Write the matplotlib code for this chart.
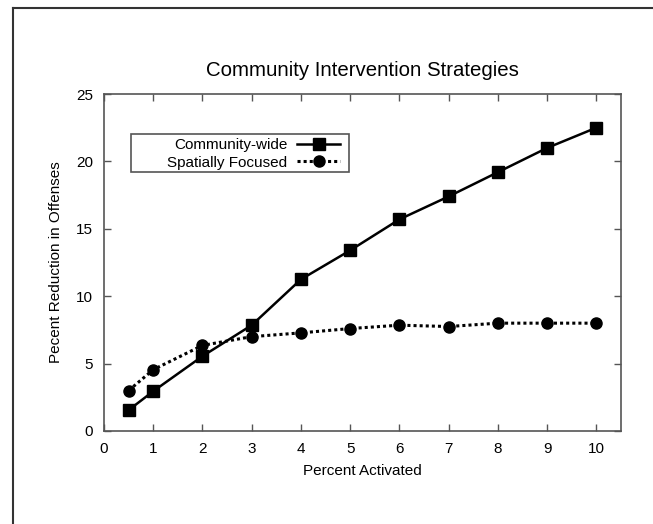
import matplotlib
matplotlib.use("Agg")
import matplotlib.pyplot as plt
from matplotlib.lines import Line2D
from matplotlib.patches import Rectangle

plt.rcParams['font.family'] = ['Liberation Sans', 'DejaVu Sans']

# percent of residents activated
pct_activated = [0.5, 1, 2, 3, 4, 5, 6, 7, 8, 9, 10]

# percent reduction in offenses per strategy
community_wide = [1.55, 2.95, 5.55, 7.85, 11.25, 13.4, 15.7, 17.4, 19.2, 21.0, 22.5]
spatially_focused = [3.0, 4.55, 6.35, 7.0, 7.28, 7.6, 7.85, 7.75, 8.0, 8.0, 8.0]

x_ticks = [0, 1, 2, 3, 4, 5, 6, 7, 8, 9, 10]
y_ticks = [0, 5, 10, 15, 20, 25]

W, H = 653, 524
fig = plt.figure(figsize=(W / 100, H / 100), dpi=100)
ax = fig.add_axes([104 / W, 1 - 431 / H, 517 / W, 337 / H])

ax.plot(pct_activated, community_wide, color='black', lw=1.8, ls='-',
        marker='s', ms=8, label='Community-wide')
ax.plot(pct_activated, spatially_focused, color='black', lw=2.2, ls=(0, (1, 1)),
        marker='o', ms=8, label='Spatially Focused')

ax.set_xlim(0, 10.5)
ax.set_ylim(0, 25)
ax.set_xticks(x_ticks)
ax.set_yticks(y_ticks)
ax.tick_params(direction='in', length=5, width=1, color='#555555',
               top=True, right=True, labelsize=11, pad=8)
for s in ax.spines.values():
    s.set_color('#555555')
    s.set_linewidth(1.2)

ax.set_title('Community Intervention Strategies', fontsize=14.7, pad=13)
ax.set_xlabel('Percent Activated', fontsize=11, labelpad=6)
ax.set_ylabel('Pecent Reduction in Offenses', fontsize=11, labelpad=9)

# key: labels on the left, sample lines on the right, inside a wide box
leg = ax.legend(loc='center right', bbox_to_anchor=(0.4565, 0.822), markerfirst=False,
                fontsize=11, frameon=False, borderpad=0, labelspacing=0.2,
                handlelength=2.8, handletextpad=0.65, borderaxespad=0)
for t in leg.get_texts():
    t.set_ha('right')
ax.add_patch(Rectangle((0.0516, 0.769), 0.422, 0.112, transform=ax.transAxes,
                       fill=False, edgecolor='#555555', lw=1.2, zorder=5))

# outer frame lines (left and top)
fig.add_artist(Line2D([13 / W, 13 / W], [0, 1 - 8 / H],
                      transform=fig.transFigure, color='#333333', lw=1.5))
fig.add_artist(Line2D([13 / W, 1], [1 - 8 / H, 1 - 8 / H],
                      transform=fig.transFigure, color='#333333', lw=1.5))

fig.savefig('out.png', dpi=100)
